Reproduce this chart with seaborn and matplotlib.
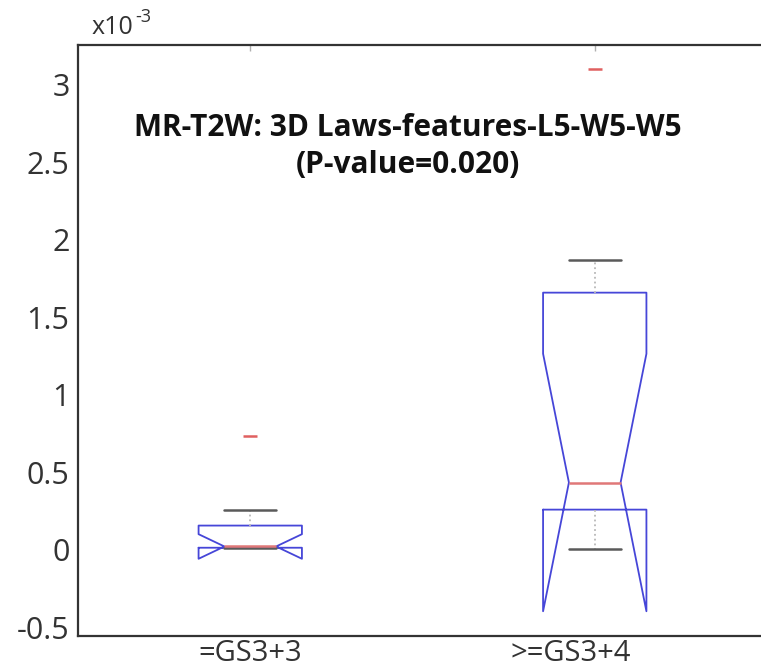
import numpy as np
import pandas as pd
import matplotlib
matplotlib.use("Agg")
import matplotlib.pyplot as plt
import matplotlib.transforms as mtransforms
import seaborn as sns

# Values in units of 1e-3 (quartiles, whiskers, outliers)
grupos = ["=GS3+3", ">=GS3+4"]
valores_gs33 = [0.010, 0.011, 0.0123, 0.018, 0.022, 0.1217, 0.255, 0.736]
valores_gs34 = [0.006, 0.140, 0.376, 0.433, 1.446, 1.872, 3.105]
ticks_y = [-0.5, 0, 0.5, 1, 1.5, 2, 2.5, 3]
etiquetas_y = ["-0.5", "0", "0.5", "1", "1.5", "2", "2.5", "3"]
titulo = "MR-T2W: 3D Laws-features-L5-W5-W5\n(P-value=0.020)"

df = pd.DataFrame({
    "grupo": [grupos[0]] * len(valores_gs33) + [grupos[1]] * len(valores_gs34),
    "valor": valores_gs33 + valores_gs34,
})

sns.set_style("white")
plt.rcParams["font.family"] = ["Open Sans", "DejaVu Sans"]
plt.rcParams["axes.unicode_minus"] = False

fig = plt.figure(figsize=(7.61, 6.72), dpi=100)
ax = fig.add_axes([78 / 761, 1 - 636 / 672, 689 / 761, 591 / 672])

sns.boxplot(
    data=df, x="grupo", y="valor", order=grupos, notch=True, width=0.3,
    whis=0.9, fill=False, ax=ax,
    boxprops=dict(color="#4646d8", linewidth=1.3),
    medianprops=dict(color="#e07878", linewidth=1.8),
    whiskerprops=dict(color="#b8b8b8", linestyle=":", linewidth=1.3),
    capprops=dict(color="#5a5a5a", linewidth=1.8),
    flierprops=dict(marker="_", markeredgecolor="#e06060", markersize=10,
                    markeredgewidth=1.8),
)

ax.set_xlim(-0.5, 1.5)
ax.set_ylim(-0.558, 3.258)
ax.set_yticks(ticks_y)
ax.set_yticklabels(etiquetas_y)
ax.set_xlabel("")
ax.set_ylabel("")

ax.tick_params(axis="both", direction="in", length=4, width=1,
               color="#b0b0b0", labelsize=22, labelcolor="#333333",
               top=True, right=True)
ax.tick_params(axis="y", pad=6)
ax.tick_params(axis="x", pad=2.5, labelsize=21)
for lado in ["left", "top", "bottom", "right"]:
    ax.spines[lado].set_color("#333333")
    ax.spines[lado].set_linewidth(1.6)

# second category label sits a bit left of its box in the reference
etiqueta = ax.get_xticklabels()[1]
etiqueta.set_transform(etiqueta.get_transform()
                       + mtransforms.ScaledTranslation(-0.24, 0, fig.dpi_scale_trans))

ax.text(0.479, 0.829, titulo, transform=ax.transAxes, ha="center", va="center",
        fontsize=21.5, fontweight="bold", color="#111111", linespacing=1.3)

# axis multiplier, drawn like the original "x10^-3"
fig.text(92 / 761, 1 - 34 / 672, "x10", fontsize=18, color="#333333",
         va="baseline", ha="left")
fig.text(135 / 761, 1 - 22 / 672, "-3", fontsize=13, color="#333333",
         va="baseline", ha="left")

fig.savefig("out.png", dpi=100)
